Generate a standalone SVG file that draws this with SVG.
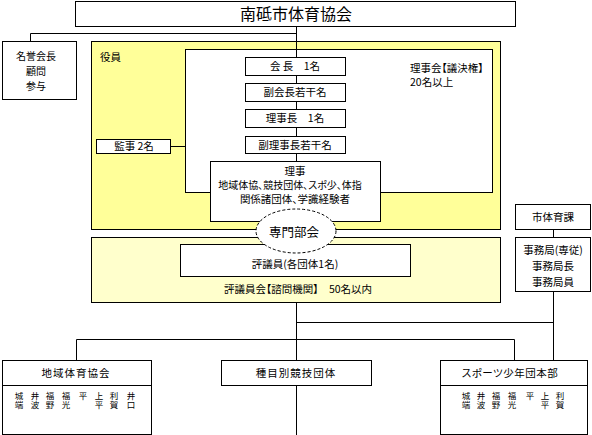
<svg xmlns="http://www.w3.org/2000/svg" width="592" height="435" viewBox="0 0 592 435">
<style>
text{font-family:"Noto Sans CJK JP","Noto Sans CJK SC",sans-serif;font-size:10.5px;fill:#000;font-feature-settings:"palt";}
.c{text-anchor:middle}
.box{fill:#fff;stroke:#000;stroke-width:1}
.ln{fill:none;stroke:#000;stroke-width:1}
.v{font-size:8.5px;writing-mode:vertical-rl;font-feature-settings:normal}
</style>
<rect width="592" height="435" fill="#fff"/>
<g id="yakuin-area">
<rect x="91.5" y="41.5" width="409" height="188" fill="#ffff99" stroke="#000"/>
<rect x="185.5" y="49.5" width="307" height="143" fill="#fff" stroke="#000"/>
<text x="100" y="61">役員</text>
<text x="410" y="72">理事会【議決権】</text>
<text x="410" y="86">20名以上</text>
</g>
<g id="hyogiin-area">
<rect x="91.5" y="237.5" width="409" height="65" fill="#ffffcc" stroke="#000"/>
<text class="c" x="298" y="293">評議員会【諮問機関】　50名以内</text>
</g>
<g id="connectors">
<path class="ln" d="M296.5 26V161 M30.5 41V33.5H296.5"/>
<path class="ln" d="M171 146.5H186"/>
<path class="ln" d="M296.5 302V360 M296.5 386V435"/>
<path class="ln" d="M296.5 322.5H553.5 M553.5 229V237 M553.5 292V360"/>
<path class="ln" d="M76.5 360V339.5H514.5V360"/>
</g>
<g id="title">
<rect class="box" x="75.5" y="1.5" width="440" height="25"/>
<text class="c" x="296" y="20" style="font-size:16px">南砥市体育協会</text>
</g>
<g id="meiyo">
<rect class="box" x="2.5" y="41.5" width="74" height="58"/>
<text class="c" x="36" y="60" style="font-size:10px">名誉会長</text>
<text class="c" x="36" y="75" style="font-size:10px">顧問</text>
<text class="c" x="36" y="90" style="font-size:10px">参与</text>
</g>
<g id="kaicho">
<rect class="box" x="245.5" y="57.5" width="100" height="18"/>
<text class="c" x="295" y="70">会 長　1名</text>
</g>
<g id="fukukaicho">
<rect class="box" x="245.5" y="83.5" width="100" height="18"/>
<text class="c" x="295" y="96">副会長若干名</text>
</g>
<g id="rijicho">
<rect class="box" x="245.5" y="109.5" width="100" height="18"/>
<text class="c" x="295" y="122">理事長　1名</text>
</g>
<g id="fukurijicho">
<rect class="box" x="245.5" y="136.5" width="100" height="17"/>
<text class="c" x="295" y="149">副理事長若干名</text>
</g>
<g id="kanji">
<rect class="box" x="96.5" y="139.5" width="74" height="14"/>
<text class="c" x="134" y="150">監事 2名</text>
</g>
<g id="riji">
<rect class="box" x="210.5" y="161.5" width="170" height="60"/>
<text class="c" x="295" y="175">理事</text>
<text class="c" x="290" y="189" style="font-size:10px">地域体協、競技団体、スポ少、体指</text>
<text class="c" x="295" y="203">関係諸団体、学識経験者</text>
</g>
<g id="hyogiin">
<rect class="box" x="180.5" y="244.5" width="230" height="32"/>
<text class="c" x="295" y="268">評議員(各団体1名)</text>
</g>
<g id="senmonbukai">
<ellipse cx="296" cy="231" rx="40" ry="22" fill="#fff" stroke="#000" stroke-dasharray="3,2"/>
<text class="c" x="294" y="237" style="font-size:12.5px">専門部会</text>
</g>
<g id="shitaiikuka">
<rect class="box" x="515.5" y="204.5" width="75" height="25"/>
<text class="c" x="553" y="221">市体育課</text>
</g>
<g id="jimukyoku">
<rect class="box" x="515.5" y="237.5" width="75" height="54"/>
<text class="c" x="553" y="254">事務局(専従)</text>
<text class="c" x="553" y="270">事務局長</text>
<text class="c" x="553" y="286">事務局員</text>
</g>
<g id="chiiki">
<rect class="box" x="2.5" y="360.5" width="149" height="74"/>
<path class="ln" d="M2.5 385.5H151.5"/>
<text class="c" x="76" y="377" style="letter-spacing:1px">地域体育協会</text>
<text class="v" x="19" y="392">城端</text>
<text class="v" x="35" y="392">井波</text>
<text class="v" x="50" y="392">福野</text>
<text class="v" x="66" y="392">福光</text>
<text class="v" x="83" y="392">平</text>
<text class="v" x="99" y="392">上平</text>
<text class="v" x="114" y="392">利賀</text>
<text class="v" x="131" y="392">井口</text>
</g>
<g id="shumoku">
<rect class="box" x="221.5" y="360.5" width="150" height="25"/>
<text class="c" x="296" y="377" style="letter-spacing:1px">種目別競技団体</text>
</g>
<g id="sposho">
<rect class="box" x="440.5" y="360.5" width="147" height="74"/>
<path class="ln" d="M440.5 385.5H587.5"/>
<text class="c" x="510" y="377" style="letter-spacing:0.5px">スポーツ少年団本部</text>
<text class="v" x="466" y="392">城端</text>
<text class="v" x="481" y="392">井波</text>
<text class="v" x="496" y="392">福野</text>
<text class="v" x="512" y="392">福光</text>
<text class="v" x="530" y="392">平</text>
<text class="v" x="545" y="392">上平</text>
<text class="v" x="560" y="392">利賀</text>
</g>
</svg>
